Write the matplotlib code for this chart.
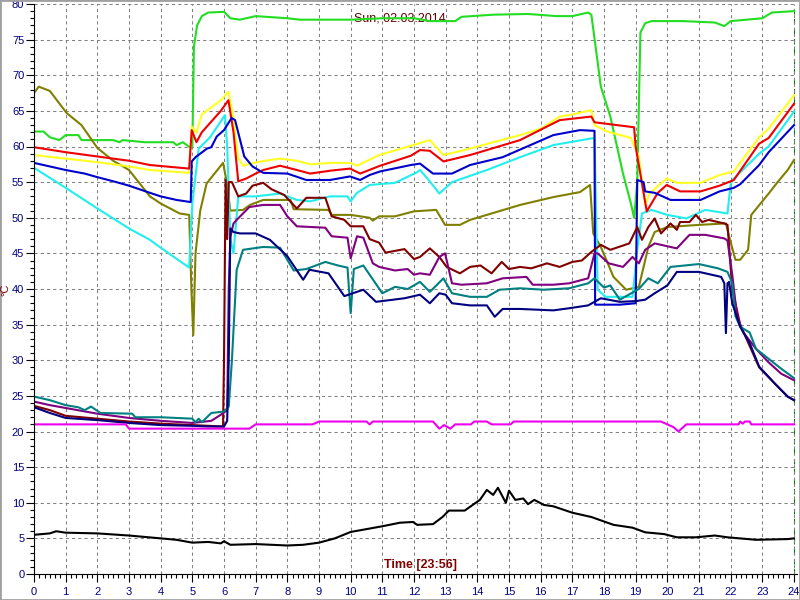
import matplotlib
matplotlib.use("Agg")
import matplotlib.pyplot as plt
from matplotlib.ticker import MultipleLocator
from matplotlib.patches import Rectangle

plt.rcParams['font.family'] = ['Liberation Sans', 'DejaVu Sans']

title = "Sun, 02.03.2014"
xlabel = "Time [23:56]"
ylabel = "°C"

# hours / values, one pair per sensor
green_t = [0, 0.3, 0.5, 0.8, 1.0, 1.4, 1.5, 2.5, 2.7, 2.8, 3.5, 4.4, 4.5, 4.7, 4.95, 5.0, 5.05, 5.15, 5.3, 5.5, 6.0,
           6.2, 6.5, 7.0, 8.0, 8.4, 9.0, 10.0, 11.0, 12.0, 12.5, 13.3, 13.5, 14.5, 15.6, 16.5, 17.0, 17.5, 17.6, 17.75,
           17.9, 18.2, 18.6, 18.85, 18.95, 19.05, 19.15, 19.3, 19.5, 20.5, 21.5, 21.8, 22.0, 23.0, 23.3, 24.0]
green_v = [62.1, 62.1, 61.3, 60.9, 61.6, 61.6, 60.9, 60.9, 60.6, 60.9, 60.6, 60.6, 60.2, 60.6, 59.8, 60.0, 74.0, 77.0,
           78.3, 78.8, 78.9, 78.0, 77.8, 78.3, 78.0, 77.8, 77.8, 77.8, 78.0, 78.0, 77.6, 77.6, 78.2, 78.5, 78.6, 78.3,
           78.3, 78.8, 78.5, 73.5, 68.4, 64.2, 56.2, 52.0, 50.0, 55.0, 76.0, 77.3, 77.6, 77.6, 77.4, 76.9, 77.6, 78.0,
           78.8, 79.0]

yellow_t = [0, 1, 2, 3, 3.66, 4.9, 4.98, 5.13, 5.3, 5.6, 5.9, 6.14, 6.3, 6.44, 6.6, 6.82, 7.3, 7.77, 8.3, 8.72, 9.35,
            9.98, 10.2, 10.9, 11.9, 12.5, 12.93, 13.77, 14.5, 15.35, 16.0, 16.6, 17.0, 17.6, 17.7, 18.1, 18.85, 19.1,
            19.3, 19.45, 19.98, 20.3, 21.05, 21.65, 22.1, 22.9, 23.2, 24.0]
yellow_v = [58.8, 58.3, 57.8, 57.2, 56.7, 56.3, 62.8, 61.9, 64.5, 65.5, 66.5, 67.7, 64.0, 58.5, 57.3, 57.6, 58.0, 58.3,
            58.0, 57.5, 57.7, 57.7, 57.3, 58.8, 60.1, 60.9, 58.8, 59.7, 60.6, 61.6, 62.5, 64.2, 64.5, 65.1, 63.0, 62.1,
            61.2, 58.6, 51.8, 53.5, 55.5, 54.9, 54.9, 56.0, 56.5, 61.3, 62.5, 67.2]

red_t = [0, 1, 2, 3, 3.66, 4.9, 4.98, 5.13, 5.3, 5.6, 5.9, 6.14, 6.3, 6.45, 6.7, 7.0, 7.24, 7.77, 8.3, 8.72, 9.35, 9.98,
         10.3, 10.93, 11.9, 12.19, 12.5, 12.93, 13.77, 15.35, 16.6, 17.6, 17.7, 18.95, 19.0, 19.2, 19.35, 19.7, 19.98,
         20.4, 21.05, 21.65, 22.1, 22.9, 23.2, 24.0]
red_v = [59.9, 59.2, 58.6, 58.0, 57.4, 56.9, 62.3, 60.6, 62.0, 63.5, 65.0, 66.5, 62.0, 55.1, 55.5, 56.2, 56.7, 57.3,
         56.7, 56.2, 56.6, 56.9, 56.2, 57.3, 58.7, 59.5, 59.4, 57.9, 58.8, 60.9, 63.7, 64.2, 63.4, 62.7, 60.0, 54.8,
         50.9, 53.5, 54.6, 53.7, 53.7, 54.5, 55.3, 60.4, 61.2, 66.0]

blue_t = [0, 0.5, 1.0, 1.6, 2.0, 2.6, 3.0, 3.66, 4.0, 4.5, 4.95, 4.98, 5.1, 5.46, 5.6, 5.77, 6.0, 6.24, 6.35, 6.64,
          6.9, 7.24, 8.0, 8.6, 9.35, 9.98, 10.3, 10.6, 10.93, 11.9, 12.19, 12.6, 13.2, 13.77, 14.8, 16.4, 17.24, 17.7,
          17.72, 18.5, 19.0, 19.05, 19.25, 19.3, 19.6, 20.1, 21.05, 21.65, 22.1, 22.3, 22.9, 23.2, 24.0]
blue_v = [57.7, 57.2, 56.7, 56.2, 55.7, 55.0, 54.5, 53.5, 53.0, 52.5, 52.2, 57.9, 58.5, 59.7, 59.9, 61.4, 62.3, 64.0,
          63.7, 58.6, 57.2, 56.3, 56.2, 55.3, 55.3, 55.8, 55.3, 56.0, 56.5, 57.4, 57.6, 56.2, 56.2, 57.4, 58.5, 61.6,
          62.3, 62.2, 37.8, 37.8, 38.0, 55.3, 55.0, 53.7, 53.5, 52.5, 52.5, 53.7, 54.2, 54.7, 57.4, 59.2, 63.0]

cyan_t = [0, 1, 2, 3, 3.66, 4.0, 4.9, 5.0, 5.2, 5.56, 6.03, 6.1, 6.2, 6.3, 6.45, 7.0, 7.77, 8.3, 8.72, 9.34, 9.9, 10.0,
          10.2, 10.6, 11.4, 12.1, 12.19, 12.5, 12.8, 13.2, 14.3, 15.35, 16.4, 17.56, 17.7, 17.8, 18.05, 18.9, 19.05,
          19.2, 19.5, 20.0, 20.6, 21.2, 21.9, 22.0, 22.1, 22.9, 23.2, 24.0]
cyan_v = [57.0, 54.2, 51.3, 48.5, 46.9, 45.8, 43.0, 52.0, 59.7, 61.3, 64.4, 60.0, 47.0, 45.0, 53.0, 53.0, 53.4, 52.5,
          52.3, 53.0, 53.0, 52.3, 53.5, 54.6, 54.9, 56.4, 56.7, 55.1, 53.4, 55.0, 56.7, 58.5, 60.2, 61.1, 61.2, 39.9,
          38.9, 38.9, 45.5, 50.6, 51.1, 50.4, 49.9, 51.1, 50.6, 54.8, 55.5, 59.0, 60.0, 64.9]

olive_t = [0, 0.15, 0.5, 1.03, 1.5, 2.0, 2.5, 3.0, 3.66, 4.0, 4.6, 4.9, 4.97, 5.03, 5.1, 5.25, 5.45, 5.97, 6.07, 6.2,
           6.6, 6.82, 7.24, 8.1, 8.2, 9.3, 9.4, 10.0, 10.6, 10.7, 10.9, 11.4, 12.0, 12.7, 12.98, 13.45, 13.77, 14.3,
           15.35, 16.4, 17.24, 17.56, 17.66, 17.9, 18.3, 18.7, 19.1, 19.4, 19.6, 20.0, 21.0, 21.85, 21.95, 22.15,
           22.3, 22.55, 22.65, 23.2, 23.5, 23.8, 24.0]
olive_v = [67.5, 68.4, 67.8, 64.7, 63.0, 59.8, 58.0, 56.7, 53.0, 52.0, 50.6, 50.4, 40.0, 33.5, 45.0, 51.0, 54.8, 57.7,
           55.4, 51.0, 51.1, 51.8, 52.5, 52.5, 51.2, 51.1, 50.4, 50.4, 50.0, 49.6, 50.2, 50.2, 50.9, 51.1, 49.0, 49.0,
           49.7, 50.4, 51.8, 52.9, 53.6, 54.6, 47.8, 45.9, 41.7, 39.9, 40.3, 45.9, 48.0, 48.7, 49.0, 49.2, 47.4, 44.1,
           44.1, 45.5, 50.4, 53.4, 55.1, 56.7, 58.1]

maroon_t = [0, 0.5, 1, 2, 3, 4, 5, 5.5, 5.97, 6.0, 6.05, 6.1, 6.15, 6.25, 6.45, 6.7, 6.9, 7.24, 7.5, 7.9, 8.3, 8.6,
            9.2, 9.4, 9.8, 10.0, 10.4, 10.6, 10.9, 11.1, 11.7, 12.0, 12.19, 12.5, 12.8, 13.03, 13.45, 13.77, 14.1,
            14.45, 14.77, 15.0, 15.35, 15.7, 16.2, 16.6, 17.0, 17.3, 17.6, 17.9, 18.2, 18.8, 19.05, 19.2, 19.4, 19.6,
            19.8, 20.1, 20.3, 20.4, 20.7, 20.9, 21.1, 21.3, 21.8, 21.9, 22.05, 22.3, 22.6, 22.9, 23.4, 23.8, 24.0]
maroon_v = [23.6, 23.0, 22.2, 21.8, 21.4, 21.1, 20.9, 20.8, 20.7, 30.0, 55.3, 47.0, 55.0, 55.0, 53.0, 53.4, 54.5, 54.9,
            54.0, 53.2, 51.3, 52.8, 52.8, 50.2, 49.7, 48.8, 48.8, 47.0, 46.5, 45.1, 45.6, 44.2, 44.5, 45.7, 44.5, 43.1,
            42.2, 43.1, 43.3, 42.2, 43.8, 42.8, 43.1, 42.9, 43.6, 43.1, 43.8, 44.0, 45.2, 46.2, 45.5, 46.4, 48.7, 46.9,
            48.7, 49.9, 47.8, 49.2, 48.3, 49.4, 49.4, 50.4, 49.4, 49.7, 49.2, 49.0, 40.0, 35.0, 32.0, 29.0, 26.7, 24.9,
            24.4]

purple_t = [0, 0.5, 1, 2, 3, 4, 5, 5.6, 5.95, 6.1, 6.15, 6.2, 6.3, 6.4, 6.8, 7.24, 7.77, 8.0, 8.3, 9.2, 9.4, 9.9, 10.0,
            10.2, 10.4, 10.7, 10.9, 11.4, 11.8, 12.0, 12.19, 12.5, 12.8, 12.98, 13.2, 13.5, 14.3, 14.8, 15.55, 15.75,
            16.4, 16.9, 17.5, 17.7, 17.8, 18.15, 18.6, 18.9, 19.1, 19.3, 19.6, 20.0, 20.3, 20.7, 21.2, 21.8, 21.9,
            22.05, 22.2, 22.4, 22.8, 23.2, 23.6, 24.0]
purple_v = [24.2, 23.7, 23.3, 22.5, 21.9, 21.5, 21.2, 21.5, 22.5, 23.0, 40.0, 47.3, 49.2, 49.7, 51.5, 51.8, 51.8, 50.2,
            48.8, 48.6, 47.4, 47.2, 44.3, 47.4, 47.2, 43.6, 43.1, 42.6, 42.8, 42.0, 42.2, 42.0, 44.5, 45.0, 40.8, 40.6,
            40.8, 41.5, 41.7, 40.6, 40.6, 40.8, 41.5, 45.0, 45.0, 43.6, 43.1, 44.5, 43.6, 45.5, 46.4, 46.0, 45.7, 47.6,
            47.6, 47.1, 46.8, 42.0, 36.2, 33.9, 31.6, 29.7, 28.1, 27.2]

teal_t = [0, 0.5, 1, 1.4, 1.6, 1.8, 2.1, 3.1, 3.2, 4.0, 5.0, 5.1, 5.2, 5.3, 5.6, 6.0, 6.15, 6.25, 6.4, 6.6, 7.24, 7.77,
          8.2, 8.6, 9.2, 9.6, 9.9, 10.0, 10.1, 10.4, 11.0, 11.4, 11.8, 12.19, 12.5, 12.93, 13.2, 13.77, 14.3, 14.7,
          15.35, 16.1, 16.9, 17.5, 17.7, 18.0, 18.2, 18.5, 19.1, 19.4, 19.7, 20.1, 21.0, 21.6, 21.9, 22.05, 22.15,
          22.3, 22.6, 22.8, 23.2, 23.6, 24.0]
teal_v = [24.9, 24.4, 23.7, 23.4, 23.0, 23.5, 22.6, 22.5, 22.0, 22.0, 21.8, 21.3, 21.8, 21.3, 22.6, 22.8, 23.5, 30.0,
          42.7, 45.5, 45.9, 45.8, 42.6, 42.8, 43.8, 43.3, 43.0, 36.6, 42.8, 43.3, 39.4, 40.3, 40.0, 41.0, 39.6, 41.5,
          39.4, 38.9, 38.9, 39.9, 40.1, 39.9, 40.1, 40.8, 41.5, 40.2, 40.5, 38.5, 40.0, 41.5, 40.8, 43.1, 43.5, 42.9,
          42.4, 40.8, 36.2, 34.7, 33.9, 31.6, 30.2, 28.8, 27.5]

navy_t = [0, 0.5, 1, 2, 3, 4, 5, 5.5, 6.0, 6.1, 6.15, 6.2, 6.3, 6.5, 7.0, 7.45, 8.0, 8.5, 8.7, 9.3, 9.8, 10.4, 10.8,
          11.7, 12.19, 12.5, 12.8, 13.0, 13.2, 13.77, 14.3, 14.55, 14.8, 15.35, 16.4, 16.9, 17.5, 17.9, 18.5, 19.0,
          19.3, 19.6, 20.0, 20.3, 21.0, 21.7, 21.8, 21.85, 21.9, 21.95, 22.05, 22.3, 22.6, 22.9, 23.4, 23.8, 24.0]
navy_v = [23.4, 22.6, 21.9, 21.6, 21.2, 20.9, 20.8, 20.7, 20.7, 21.5, 30.0, 48.5, 48.0, 47.8, 47.8, 46.9, 44.6, 41.3,
          42.7, 42.2, 39.0, 39.9, 38.2, 38.7, 39.2, 38.0, 39.4, 39.2, 38.0, 37.7, 37.7, 36.1, 37.2, 37.2, 37.0, 37.3,
          37.7, 38.7, 38.2, 38.3, 38.5, 39.4, 40.5, 42.4, 42.4, 41.7, 40.8, 33.8, 40.8, 41.0, 38.0, 34.7, 32.4, 29.1,
          26.7, 24.9, 24.4]

magenta_t = [0, 2.9, 3.0, 6.8, 7.0, 8.8, 9.0, 10.5, 10.6, 10.7, 12.6, 12.8, 12.95, 13.15, 13.3, 13.8, 13.9, 14.3, 14.45,
             15.05, 15.15, 19.8, 20.2, 20.35, 20.6, 22.25, 22.3, 22.38, 22.45, 22.6, 22.65, 24.0]
magenta_v = [21.0, 21.0, 20.4, 20.4, 21.0, 21.0, 21.4, 21.4, 21.0, 21.4, 21.4, 20.4, 20.9, 20.4, 21.0, 21.0, 21.4,
             21.4, 21.0, 21.0, 21.4, 21.4, 20.6, 20.0, 21.0, 21.0, 21.4, 21.1, 21.4, 21.4, 21.0, 21.0]

black_t = [0, 0.5, 0.7, 1, 2, 3, 3.5, 4, 4.5, 5, 5.5, 5.9, 6, 6.2, 7, 8, 8.5, 9, 9.5, 10, 10.5, 11, 11.56, 11.97, 12.1,
           12.6, 12.9, 13.1, 13.6, 14.08, 14.3, 14.5, 14.65, 14.9, 15.0, 15.2, 15.45, 15.6, 15.8, 16.1, 16.4, 17.0,
           17.6, 18.3, 18.9, 19.3, 19.9, 20.3, 20.9, 21.5, 21.9, 22.8, 23.8, 24]
black_v = [5.5, 5.7, 6.0, 5.8, 5.7, 5.4, 5.2, 5.0, 4.8, 4.4, 4.5, 4.3, 4.6, 4.1, 4.2, 4.0, 4.1, 4.4, 5.0, 5.9, 6.3,
           6.7, 7.2, 7.3, 6.9, 7.0, 8.0, 8.9, 8.9, 10.4, 11.8, 11.1, 12.1, 10.0, 11.7, 10.4, 10.6, 9.8, 10.4, 9.7,
           9.5, 8.6, 8.0, 6.9, 6.5, 5.85, 5.6, 5.15, 5.15, 5.4, 5.15, 4.8, 4.9, 5.0]

series = [
    (green_t, green_v, '#22dd22'),
    (olive_t, olive_v, '#808000'),
    (cyan_t, cyan_v, '#22eeee'),
    (yellow_t, yellow_v, '#ffff22'),
    (red_t, red_v, '#ee0000'),
    (blue_t, blue_v, '#0000cc'),
    (maroon_t, maroon_v, '#800000'),
    (purple_t, purple_v, '#800080'),
    (teal_t, teal_v, '#008080'),
    (navy_t, navy_v, '#000080'),
    (magenta_t, magenta_v, '#ee00ee'),
    (black_t, black_v, '#000000'),
]

fig = plt.figure(figsize=(8, 6), dpi=100)
fig.patches.append(Rectangle((0, 0), 1, 1, transform=fig.transFigure, fill=False,
                             edgecolor='#a0a0a0', linewidth=2))
ax = fig.add_axes([34 / 800, 26 / 600, 24.1 * 760 / 24 / 800, 570 / 600])

for t, v, c in series:
    ax.plot(t, v, color=c, linewidth=1.5, zorder=2)

ax.set_xlim(0, 24.1)
ax.set_ylim(0, 80)
ax.xaxis.set_major_locator(MultipleLocator(1))
ax.xaxis.set_minor_locator(MultipleLocator(1 / 6))
ax.yaxis.set_major_locator(MultipleLocator(5))
ax.yaxis.set_minor_locator(MultipleLocator(1))
ax.set_xticks(range(0, 25))
ax.tick_params(which='major', direction='out', length=6, width=0.8, labelsize=8, labelcolor='#000080')
ax.tick_params(which='minor', direction='out', length=3, width=0.8)
ax.tick_params(axis='y', which='major', pad=1)
ax.grid(True, which='major', color='#808080', linestyle=(0, (3, 3)), linewidth=0.75, zorder=0)
ax.axvline(24, color='#008000', linestyle=(0, (5, 4)), linewidth=0.8, zorder=1)
for s in ['top', 'right']:
    ax.spines[s].set_visible(False)

ax.text(11.56, 78.0, title, ha='center', va='center', color='#600000', fontsize=9, zorder=1)
ax.text(12.2, 0.4, xlabel, ha='center', va='bottom', color='#800000', fontsize=9, fontweight='bold', zorder=1)
fig.text(5 / 800, 1 - 290 / 600, ylabel, rotation=90, ha='center', va='center', color='#800000', fontsize=8)

fig.savefig("out.png", dpi=100)
